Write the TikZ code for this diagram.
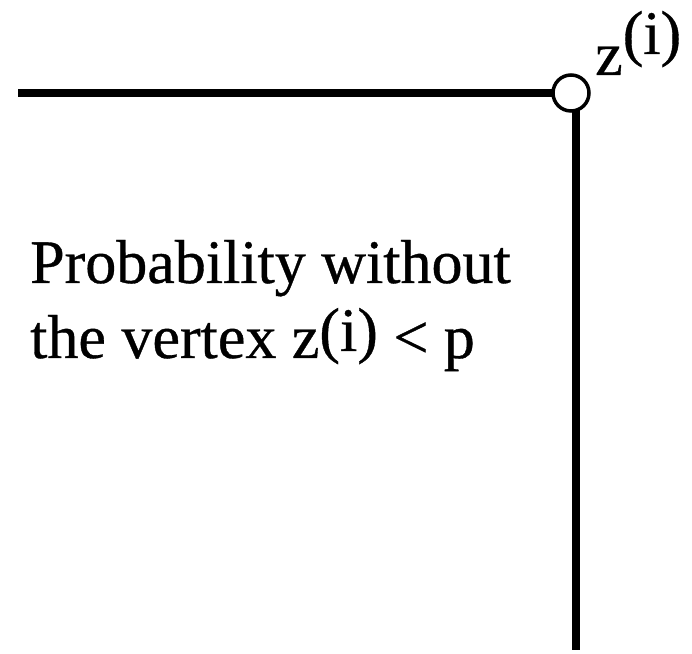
\documentclass[tikz,border=0pt]{standalone}
\usepackage{fontspec}
\setmainfont{Liberation Serif}[FakeBold=0.6]
\begin{document}
\begin{tikzpicture}[x=1pt,y=1pt,
  edge/.style={line width=8pt},
  vertex/.style={circle,draw,fill=white,line width=3.5pt,minimum size=36pt,inner sep=0pt},
  lbl/.style={anchor=base west,inner sep=0pt,font=\fontsize{62}{75}\selectfont}]
\useasboundingbox (0,0) rectangle (692,653);
\coordinate (left) at (18,560);
\coordinate (bottom) at (576,3);
\coordinate (top) at (576,560);
\draw[edge] (left) -- (572,560);
\draw[edge] (top) -- (bottom);
\node[vertex] (c) at (571,560) {};
\node[lbl] (zl) at (595,578) {z\raisebox{21pt}{(i)}};
\node[lbl] (t1) at (30,370) {Probability without};
\node[lbl] (t2) at (30,295) {the vertex z\raisebox{7pt}{(i)} < p};
\end{tikzpicture}
\end{document}
